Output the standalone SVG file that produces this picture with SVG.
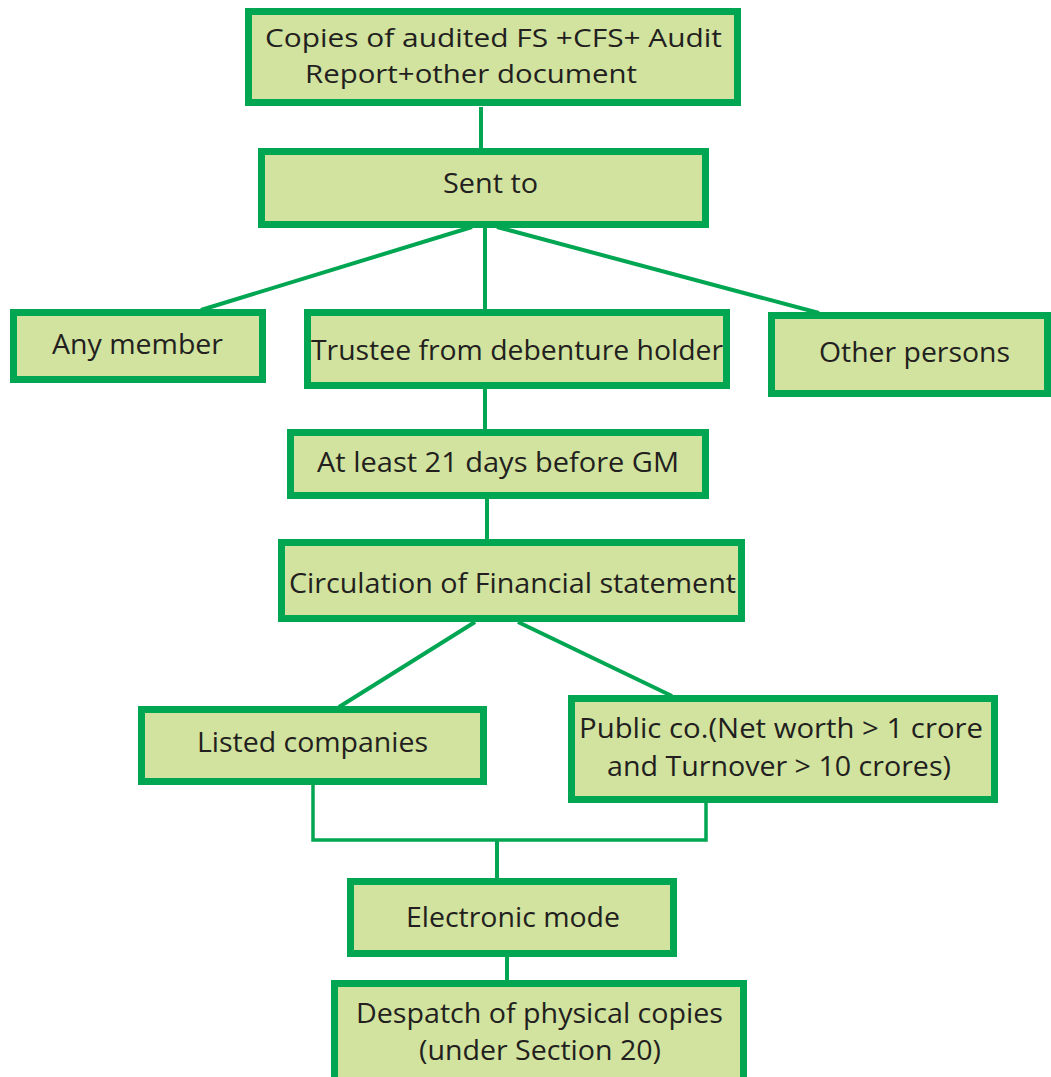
<svg xmlns="http://www.w3.org/2000/svg" width="1051" height="1077" viewBox="0 0 1051 1077">
<style>
.box{fill:#D1E39E;stroke:#00A651;stroke-width:7}
.t{font-family:"Open Sans","Noto Sans","Liberation Sans",sans-serif;font-size:28px;fill:#231F20}
.s{font-size:26px}
.m{font-size:27px}
.c{fill:none;stroke:#00A651;stroke-width:4}
</style>
<rect width="1051" height="1077" fill="#ffffff"/>
<g id="connectors">
<line class="c" x1="481" y1="107" x2="481" y2="148"/>
<line class="c" x1="472" y1="227" x2="201" y2="310"/>
<line class="c" x1="485" y1="227" x2="485" y2="310"/>
<line class="c" x1="497" y1="227" x2="819" y2="313"/>
<line class="c" x1="485" y1="389" x2="485" y2="430"/>
<line class="c" x1="487" y1="499" x2="487" y2="540"/>
<line class="c" x1="475" y1="622" x2="339" y2="707"/>
<line class="c" x1="518" y1="622" x2="672" y2="696"/>
<polyline class="c" style="stroke-width:3.5" points="313,785 313,840 706,840 706,803"/>
<line class="c" x1="497" y1="840" x2="497" y2="879"/>
<line class="c" x1="507" y1="957" x2="507" y2="981"/>
</g>
<g id="n1"><rect class="box" x="248.5" y="11.5" width="489" height="91"/>
<text class="t s" x="265" y="47" textLength="457" lengthAdjust="spacingAndGlyphs">Copies of audited FS +CFS+ Audit</text>
<text class="t s" x="305" y="83" textLength="332" lengthAdjust="spacingAndGlyphs">Report+other document</text></g>
<g id="n2"><rect class="box" x="261.5" y="151.5" width="444" height="73"/>
<text class="t" x="443" y="193" textLength="95" lengthAdjust="spacingAndGlyphs">Sent to</text></g>
<g id="n3"><rect class="box" x="13.5" y="312.5" width="249" height="67"/>
<text class="t" x="52" y="354" textLength="171" lengthAdjust="spacingAndGlyphs">Any member</text></g>
<g id="n4"><rect class="box" x="307.5" y="312.5" width="419" height="73"/>
<text class="t" x="311" y="360" textLength="412" lengthAdjust="spacingAndGlyphs">Trustee from debenture holder</text></g>
<g id="n5"><rect class="box" x="771.5" y="315.5" width="276" height="78"/>
<text class="t" x="819" y="362" textLength="191" lengthAdjust="spacingAndGlyphs">Other persons</text></g>
<g id="n6"><rect class="box" x="290.5" y="432.5" width="415" height="63"/>
<text class="t" x="317" y="472" textLength="362" lengthAdjust="spacingAndGlyphs">At least 21 days before GM</text></g>
<g id="n7"><rect class="box" x="281.5" y="542.5" width="460" height="76"/>
<text class="t" x="289" y="593" textLength="447" lengthAdjust="spacingAndGlyphs">Circulation of Financial statement</text></g>
<g id="n8"><rect class="box" x="141.5" y="709.5" width="342" height="72"/>
<text class="t" x="197" y="752" textLength="231" lengthAdjust="spacingAndGlyphs">Listed companies</text></g>
<g id="n9"><rect class="box" x="571.5" y="698.5" width="423" height="101"/>
<text class="t m" x="579" y="738" textLength="404" lengthAdjust="spacingAndGlyphs">Public co.(Net worth &gt; 1 crore</text>
<text class="t m" x="607" y="776" textLength="344" lengthAdjust="spacingAndGlyphs">and Turnover &gt; 10 crores)</text></g>
<g id="n10"><rect class="box" x="350.5" y="881.5" width="323" height="72"/>
<text class="t" x="406" y="927" textLength="214" lengthAdjust="spacingAndGlyphs">Electronic mode</text></g>
<g id="n11"><rect class="box" x="334.5" y="983.5" width="409" height="100"/>
<text class="t m" x="356" y="1023" textLength="367" lengthAdjust="spacingAndGlyphs">Despatch of physical copies</text>
<text class="t m" x="419" y="1060" textLength="242" lengthAdjust="spacingAndGlyphs">(under Section 20)</text></g>
</svg>
